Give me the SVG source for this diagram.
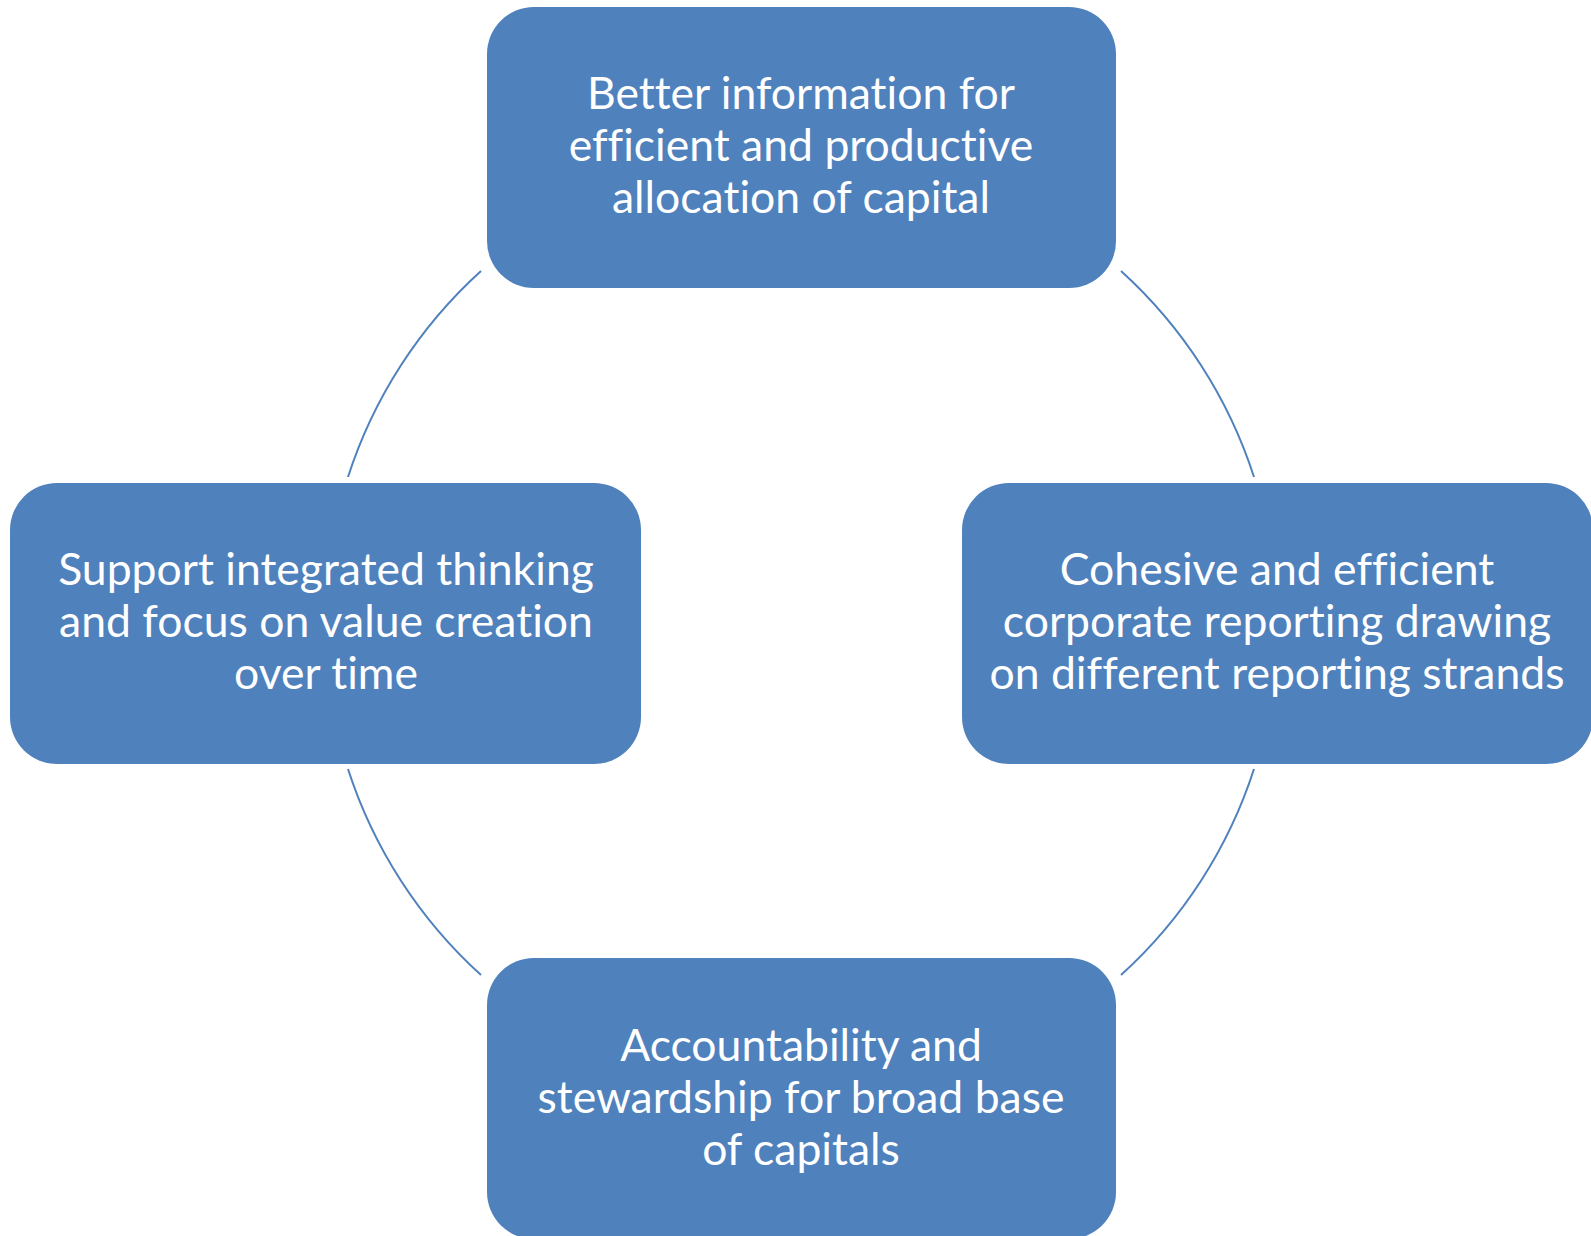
<svg xmlns="http://www.w3.org/2000/svg" width="1591" height="1236" viewBox="0 0 1591 1236">
<style>
.box{fill:#4F81BD;}
.lbl{fill:#FFFFFF;font-family:Lato,"Open Sans","Liberation Sans",sans-serif;font-size:44.5px;text-anchor:middle;font-variant-ligatures:none;}
.arc{fill:none;stroke:#4F81BD;stroke-width:2;}
</style>
<rect width="1591" height="1236" fill="#FFFFFF"/>
<g id="connectors">
<path class="arc" d="M481,271 A475,475 0 0 0 348,477"/>
<path class="arc" d="M1121,271 A475,475 0 0 1 1254,477"/>
<path class="arc" d="M348,769 A475,475 0 0 0 481,975"/>
<path class="arc" d="M1254,769 A475,475 0 0 1 1121,975"/>
</g>
<g id="node-top">
<rect class="box" x="487" y="7" width="629" height="281" rx="47"/>
<text class="lbl" x="801" y="109">Better information for</text>
<text class="lbl" x="801" y="161">efficient and productive</text>
<text class="lbl" x="801" y="213">allocation of capital</text>
</g>
<g id="node-left">
<rect class="box" x="10" y="483" width="631" height="281" rx="47"/>
<text class="lbl" x="326" y="585">Support integrated thinking</text>
<text class="lbl" x="326" y="637">and focus on value creation</text>
<text class="lbl" x="326" y="689">over time</text>
</g>
<g id="node-right">
<rect class="box" x="962" y="483" width="631" height="281" rx="47"/>
<text class="lbl" x="1277" y="585">Cohesive and efficient</text>
<text class="lbl" x="1277" y="637">corporate reporting drawing</text>
<text class="lbl" x="1277" y="689">on different reporting strands</text>
</g>
<g id="node-bottom">
<rect class="box" x="487" y="958" width="629" height="281" rx="47"/>
<text class="lbl" x="801" y="1061">Accountability and</text>
<text class="lbl" x="801" y="1113">stewardship for broad base</text>
<text class="lbl" x="801" y="1165">of capitals</text>
</g>
</svg>
